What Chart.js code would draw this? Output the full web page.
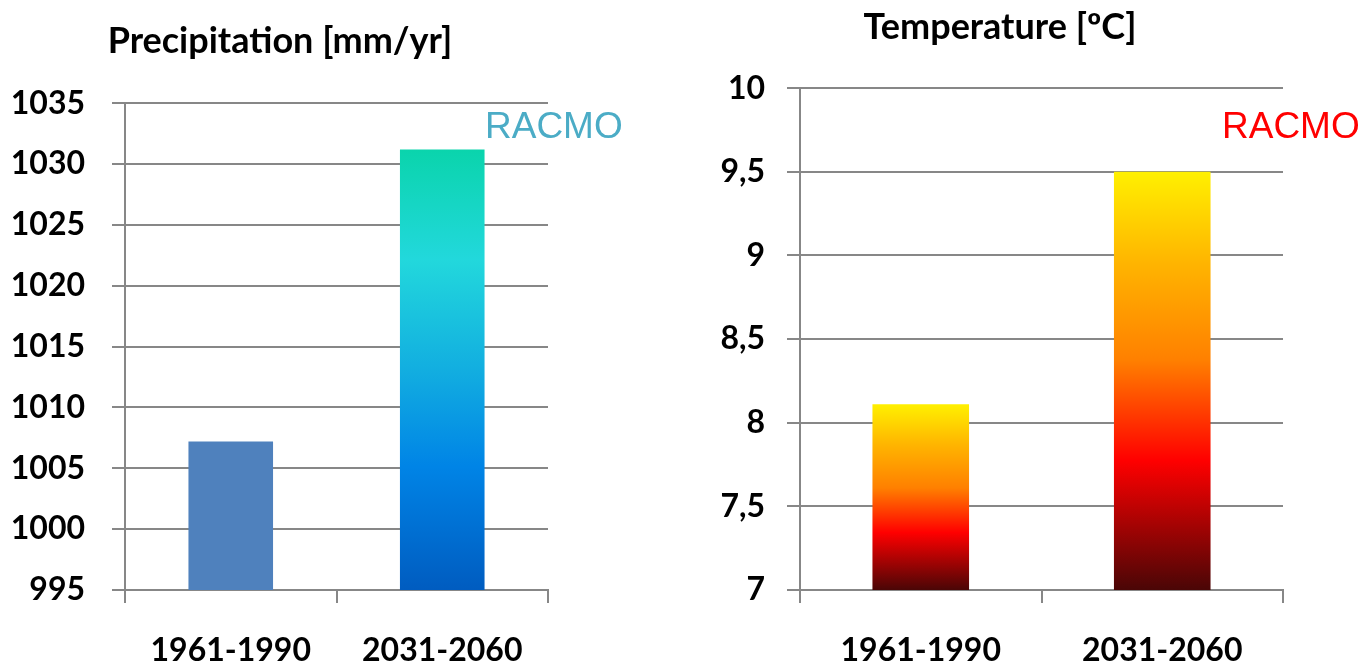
<!DOCTYPE html>
<html>
<head>
<meta charset="utf-8">
<script src="https://cdn.jsdelivr.net/npm/chart.js@4.4.1/dist/chart.umd.min.js"></script>
<style>
  html, body { margin: 0; padding: 0; background: #fff; }
  body { width: 1361px; height: 664px; position: relative; overflow: hidden; }
  canvas { position: absolute; top: 0; }
  #precip { left: 12px; }
  #temp { left: 717px; }
</style>
</head>
<body>
<canvas id="precip" width="628" height="664"></canvas>
<canvas id="temp" width="644" height="664"></canvas>
<script>
// Precipitation and temperature, RACMO — reference vs future period.

const periods = ['1961-1990', '2031-2060'];
const precipitation = [1007.2, 1031.2];   // mm/yr
const temperature = [8.11, 9.5];          // degC
const precipAxis = { min: 995, max: 1035, step: 5 };
const tempAxis = { min: 7, max: 10, step: 0.5 };

const GRID = '#878787';
const FONT = 'Lato, "Open Sans", sans-serif';

// gradient stops for the bars, top (0) to bottom (1)
const blueStops = [[0, '#0ad4ac'], [0.25, '#22d8dc'], [0.5, '#12aee0'], [0.72, '#0084e6'], [1, '#005cc0']];
const heatStops = [[0, '#fff000'], [0.22, '#ffb400'], [0.45, '#ff8000'], [0.69, '#ff0000'], [1, '#4a0606']];

// per bar: a flat colour string or a list of gradient stops
function barFill(fills) {
  return ctx => {
    const f = fills[ctx.dataIndex % fills.length];
    if (typeof f === 'string') return f;
    const chart = ctx.chart;
    if (!chart.chartArea || ctx.parsed == null) return f[0][1];
    const ys = chart.scales.y;
    const top = ys.getPixelForValue(ctx.parsed.y);
    const bottom = ys.getPixelForValue(ys.min);
    if (!isFinite(top) || !isFinite(bottom) || bottom <= top) return f[0][1];
    const g = chart.ctx.createLinearGradient(0, top, 0, bottom);
    f.forEach(([o, c]) => g.addColorStop(o, c));
    return g;
  };
}

// "RACMO" tag in the top-right corner of each panel
const cornerLabel = {
  id: 'cornerLabel',
  afterDraw(chart, args, opts) {
    const c = chart.ctx;
    c.save();
    c.font = '37px "Liberation Sans", Arial, sans-serif';
    c.fillStyle = opts.color;
    c.textAlign = 'left';
    c.textBaseline = 'alphabetic';
    c.fillText(opts.text, chart.chartArea.right + opts.dx, opts.y);
    c.restore();
  }
};

function makeChart(id, cfg) {
  return new Chart(document.getElementById(id), {
    type: 'bar',
    data: {
      labels: periods,
      datasets: [{
        data: cfg.values,
        backgroundColor: barFill(cfg.fills),
        borderWidth: 0,
        barPercentage: 0.4,
        categoryPercentage: 1,
      }],
    },
    plugins: [cornerLabel],
    options: {
      responsive: false,
      animation: false,
      devicePixelRatio: 1,
      layout: { padding: { left: 0, right: cfg.padRight, top: 0, bottom: 0 } },
      plugins: {
        legend: { display: false },
        tooltip: { enabled: false },
        title: {
          display: true, text: cfg.title, color: '#000',
          font: { family: FONT, size: 36, weight: 'bold', lineHeight: 1.2 },
          padding: cfg.titlePad,
        },
        cornerLabel: cfg.tag,
      },
      scales: {
        x: {
          offset: true,
          grid: { offset: true, drawOnChartArea: false, drawTicks: true, tickLength: 13, color: GRID, lineWidth: 2 },
          border: { color: GRID, width: 2 },
          ticks: { color: '#000', padding: 28, font: { family: FONT, size: 32, weight: 'bold' } },
          afterFit(s) { s.height = 74; },
        },
        y: {
          min: cfg.axis.min, max: cfg.axis.max,
          grid: { color: GRID, lineWidth: 2, tickLength: 13 },
          border: { color: GRID, width: 2 },
          ticks: {
            stepSize: cfg.axis.step, color: '#000', padding: cfg.tickPad,
            font: { family: FONT, size: 32, weight: 'bold' },
            callback: v => String(v).replace('.', ','),
          },
          afterFit(s) { s.width = cfg.axisWidth; },
        },
      },
    },
  });
}

makeChart('precip', {
  title: 'Precipitation [mm/yr]',
  values: precipitation,
  fills: ['#4f81bd', blueStops],
  axis: precipAxis,
  padRight: 92,
  axisWidth: 113,
  tickPad: 27,
  titlePad: { top: 20, bottom: 40 },
  tag: { text: 'RACMO', color: '#4bacc6', dx: -63, y: 138 },
});

makeChart('temp', {
  title: 'Temperature [ºC]',
  values: temperature,
  fills: [heatStops, heatStops],
  axis: tempAxis,
  padRight: 78,
  axisWidth: 83,
  tickPad: 22,
  titlePad: { top: 6, bottom: 39 },
  tag: { text: 'RACMO', color: '#ff0000', dx: -61, y: 138 },
});
</script>
</body>
</html>
